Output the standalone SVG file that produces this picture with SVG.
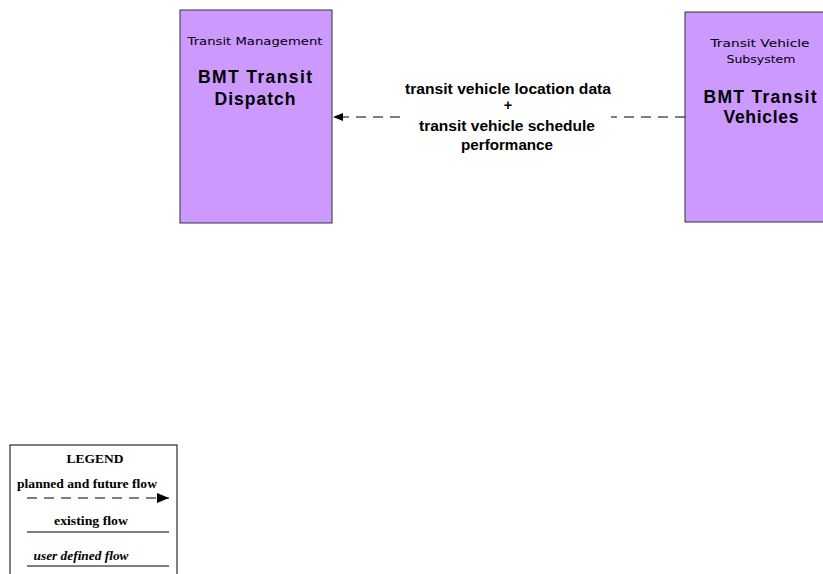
<svg xmlns="http://www.w3.org/2000/svg" width="823" height="574" viewBox="0 0 823 574">
<style>
.node{fill:#cc99ff;stroke:#333;stroke-width:1}
.sub{font-family:"DejaVu Sans","Liberation Sans",sans-serif;font-size:11px;fill:#000;text-anchor:middle}
.ttl{font-family:"Liberation Sans",Arial,sans-serif;font-weight:bold;font-size:17.5px;fill:#000;text-anchor:middle}
.flow{font-family:"Liberation Sans",Arial,sans-serif;font-weight:bold;font-size:14.5px;fill:#000;text-anchor:middle}
.leg{font-family:"Liberation Serif","Times New Roman",serif;font-weight:bold;font-size:13px;fill:#000;text-anchor:middle}
.dash{stroke:#000;stroke-width:1;stroke-dasharray:10,7;fill:none}
.solid{stroke:#000;stroke-width:1.2;fill:none}
</style>
<defs>
<marker id="ah" markerWidth="10" markerHeight="8" refX="10" refY="4" orient="auto" markerUnits="userSpaceOnUse">
<path d="M0,0 L10,4 L0,8 z" fill="#000"/>
</marker>
<marker id="ahl" markerWidth="12" markerHeight="10" refX="12" refY="5" orient="auto" markerUnits="userSpaceOnUse">
<path d="M0,0 L12,5 L0,10 z" fill="#000"/>
</marker>
</defs>
<rect width="823" height="574" fill="#fff"/>
<g id="bmt-transit-dispatch">
<rect class="node" x="180" y="10" width="152" height="213"/>
<text class="sub" x="255" y="45" textLength="135" lengthAdjust="spacingAndGlyphs">Transit Management</text>
<text class="ttl" x="255" y="83" textLength="114" lengthAdjust="spacing">BMT Transit</text>
<text class="ttl" x="255" y="105" textLength="81" lengthAdjust="spacing">Dispatch</text>
</g>
<g id="bmt-transit-vehicles">
<rect class="node" x="685" y="12" width="150" height="210"/>
<text class="sub" x="760" y="47" textLength="99" lengthAdjust="spacingAndGlyphs">Transit Vehicle</text>
<text class="sub" x="761" y="63" textLength="69" lengthAdjust="spacingAndGlyphs">Subsystem</text>
<text class="ttl" x="760" y="103" textLength="113" lengthAdjust="spacing">BMT Transit</text>
<text class="ttl" x="761" y="123" textLength="75" lengthAdjust="spacing">Vehicles</text>
</g>
<g id="connectors">
<line class="dash" x1="685" y1="117" x2="611" y2="117"/>
<line class="dash" x1="400" y1="117" x2="333" y2="117" marker-end="url(#ah)"/>
<text class="flow" x="508" y="94" textLength="206" lengthAdjust="spacingAndGlyphs">transit vehicle location data</text>
<text class="flow" x="508" y="110">+</text>
<text class="flow" x="507" y="131" textLength="176" lengthAdjust="spacingAndGlyphs">transit vehicle schedule</text>
<text class="flow" x="507" y="150" textLength="92" lengthAdjust="spacingAndGlyphs">performance</text>
</g>
<g id="legend">
<rect x="10" y="445" width="167" height="135" fill="#fff" stroke="#000" stroke-width="1"/>
<text class="leg" x="95" y="463" textLength="57" lengthAdjust="spacingAndGlyphs">LEGEND</text>
<text class="leg" x="87" y="488" textLength="140" lengthAdjust="spacingAndGlyphs">planned and future flow</text>
<line class="dash" x1="27" y1="498" x2="169" y2="498" stroke-width="1.5" stroke-dasharray="5,4" marker-end="url(#ahl)"/>
<text class="leg" x="91" y="525" textLength="74" lengthAdjust="spacingAndGlyphs">existing flow</text>
<line class="solid" x1="27" y1="532" x2="169" y2="532"/>
<text class="leg" x="81" y="560" font-style="italic" textLength="95" lengthAdjust="spacingAndGlyphs">user defined flow</text>
<line class="solid" x1="27" y1="566" x2="169" y2="566"/>
</g>
</svg>
